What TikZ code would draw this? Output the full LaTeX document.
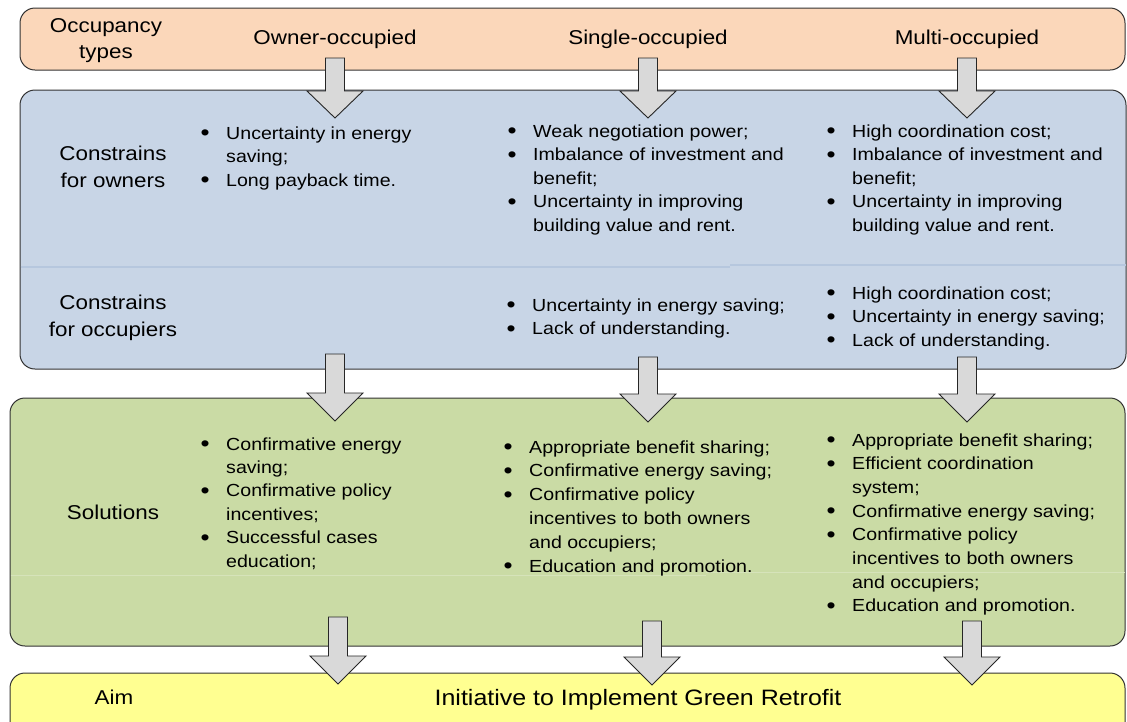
\documentclass[tikz,border=0pt]{standalone}
\usepackage{fontspec}
\setmainfont{Liberation Sans}[FakeStretch=1.12]
\definecolor{peachc}{RGB}{251,215,186}
\definecolor{bluec}{RGB}{200,213,230}
\definecolor{greenc}{RGB}{202,219,165}
\definecolor{yellowc}{RGB}{255,255,145}
\definecolor{arrowgray}{RGB}{217,217,217}
\definecolor{bluerule}{RGB}{182,199,222}
\definecolor{greenrule}{RGB}{214,227,186}
% bullet row and continuation row of a list
\newcommand\bul{\makebox[21pt][l]{\makebox[0pt]{\raisebox{-1.7pt}{\fontsize{23}{23}\selectfont\textbullet}}}}
\newcommand\cnt{\hspace*{21pt}}
\newcommand\rows[1]{\begin{tabular}[t]{@{}l@{}}#1\end{tabular}}
\newcommand\crows[1]{\begin{tabular}[t]{@{}c@{}}#1\end{tabular}}
% block arrow: centre x, shaft top, head start, tip
\newcommand\dnarrow[4]{%
  \draw[barrow] (#1-9.5,#2) -- (#1+9.5,#2) -- (#1+9.5,#3) -- (#1+28,#3)
    -- (#1,#4) -- (#1-28,#3) -- (#1-9.5,#3) -- cycle;}
\begin{document}
\begin{tikzpicture}[x=1pt,y=-1pt,
  band/.style={draw=black!80, line width=1pt, rounded corners=15pt,
    anchor=north west, inner sep=0pt, outer sep=0pt},
  barrow/.style={draw=black!85, line width=0.9pt, fill=arrowgray},
  headtxt/.style={font=\fontsize{20}{27}\selectfont, inner sep=0pt, anchor=base},
  listtxt/.style={font=\fontsize{17.5}{23.6}\selectfont, inner sep=0pt, anchor=base west},
]
\clip (0,0) rectangle (1127,721);

% horizontal bands
\node[band, fill=peachc, minimum width=1105pt, minimum height=62pt] (typesband) at (20,8) {};
\node[band, fill=bluec, minimum width=1106pt, minimum height=279pt] (consband) at (20,90) {};
\node[band, fill=greenc, minimum width=1115pt, minimum height=248pt] (solband) at (10,398) {};
\node[band, fill=yellowc, minimum width=1115pt, minimum height=70pt] (aimband) at (10,673) {};

% faint separators inside the bands
\draw[bluerule, line width=1.2pt] (20.5,267) -- (730,267) (730,265) -- (1125.5,265);
\draw[greenrule, line width=1pt] (10.5,575) -- (706,575) (706,572) -- (1124.5,572);

% block arrows between the bands
\dnarrow{335}{58}{91}{118}
\dnarrow{648}{58}{91}{118}
\dnarrow{967}{58}{91}{118}
\dnarrow{335}{354}{393}{421}
\dnarrow{648}{357}{394}{422}
\dnarrow{967}{357}{394}{422}
\dnarrow{338}{617}{656}{684}
\dnarrow{652}{621}{657}{685}
\dnarrow{972}{621}{657}{685}

% row headings
\node[headtxt, font=\fontsize{20}{26}\selectfont] (occ) at (106,32) {\crows{Occupancy\\types}};
\node[headtxt] (owner) at (335,44) {Owner-occupied};
\node[headtxt] (single) at (648,44) {Single-occupied};
\node[headtxt] (multi) at (967,44) {Multi-occupied};
\node[headtxt] (cowners) at (113,160) {\crows{Constrains\\for owners}};
\node[headtxt] (coccup) at (113,309) {\crows{Constrains\\for occupiers}};
\node[headtxt] (sol) at (113,519) {Solutions};
\node[headtxt] (aim) at (114,704) {Aim};
\node[headtxt, font=\fontsize{22.3}{26}\selectfont] (aimtext) at (638,705) {Initiative to Implement Green Retrofit};

% constraints for owners
\node[listtxt] (ow1) at (205,139) {\rows{\bul Uncertainty in energy\\ \cnt saving;\\ \bul Long payback time.}};
\node[listtxt] (ow2) at (512,137) {\rows{\bul Weak negotiation power;\\ \bul Imbalance of investment and\\ \cnt benefit;\\ \bul Uncertainty in improving\\ \cnt building value and rent.}};
\node[listtxt] (ow3) at (831,137) {\rows{\bul High coordination cost;\\ \bul Imbalance of investment and\\ \cnt benefit;\\ \bul Uncertainty in improving\\ \cnt building value and rent.}};

% constraints for occupiers
\node[listtxt] (oc2) at (511,311) {\rows{\bul Uncertainty in energy saving;\\ \bul Lack of understanding.}};
\node[listtxt] (oc3) at (831,299) {\rows{\bul High coordination cost;\\ \bul Uncertainty in energy saving;\\ \bul Lack of understanding.}};

% solutions
\node[listtxt, font=\fontsize{17.5}{23.4}\selectfont] (so1) at (205,450) {\rows{\bul Confirmative energy\\ \cnt saving;\\ \bul Confirmative policy\\ \cnt incentives;\\ \bul Successful cases\\ \cnt education;}};
\node[listtxt, font=\fontsize{17.5}{23.8}\selectfont] (so2) at (508,453) {\rows{\bul Appropriate benefit sharing;\\ \bul Confirmative energy saving;\\ \bul Confirmative policy\\ \cnt incentives to both owners\\ \cnt and occupiers;\\ \bul Education and promotion.}};
\node[listtxt, font=\fontsize{17.5}{23.7}\selectfont] (so3) at (831,446) {\rows{\bul Appropriate benefit sharing;\\ \bul Efficient coordination\\ \cnt system;\\ \bul Confirmative energy saving;\\ \bul Confirmative policy\\ \cnt incentives to both owners\\ \cnt and occupiers;\\ \bul Education and promotion.}};
\end{tikzpicture}
\end{document}
